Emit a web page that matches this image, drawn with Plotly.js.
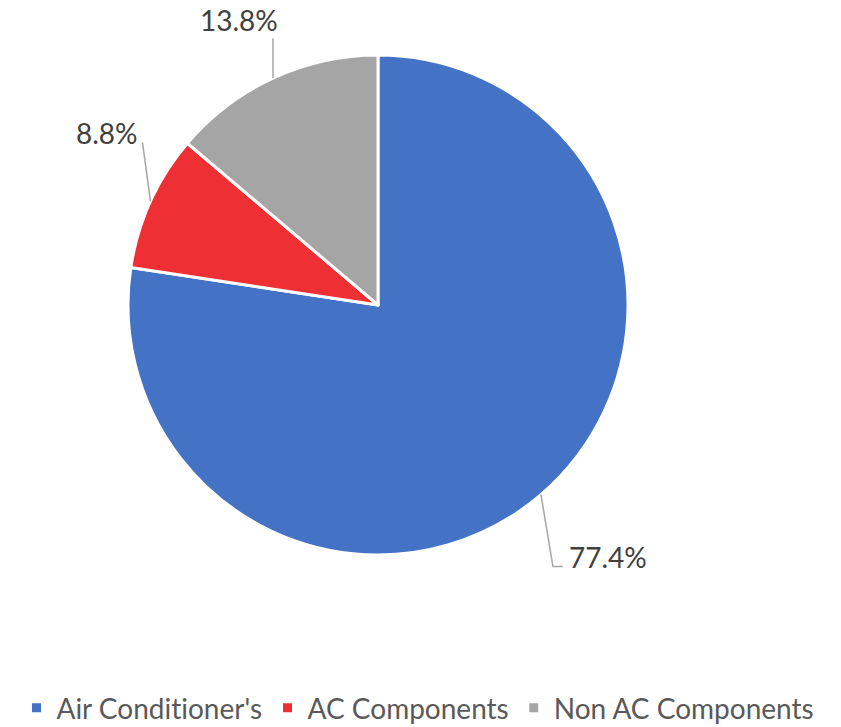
<!DOCTYPE html>
<html><head><meta charset="utf-8">
<script src="https://cdn.plot.ly/plotly-3.0.1.min.js"></script>
<style>html,body{margin:0;padding:0;background:#fff}#chart{width:841px;height:727px}
#chart text{font-variant-ligatures:none;font-feature-settings:"liga" 0}</style>
</head><body><div id="chart"></div>
<script>
const categories = ["Air Conditioner's", "AC Components", "Non AC Components"];
const shares = [77.4, 8.8, 13.8];
const colors = ["#4472C4", "#EE3035", "#A5A5A5"];

const W = 841, H = 727;
const cx = 378, cy = 305, R = 250;
// label layout (pixel offsets from slice edge midpoint), style only
const leaderEnd = [[12, 72], [-8, -59], [0, -40]];
const labelOff = [[15, -10], [-3, -9], [-34, -18]];
const labelAnchor = ["left", "right", "center"];

const total = shares.reduce((a, b) => a + b, 0);
const annotations = [], shapes = [];
let cum = 0;
const fx = p => p / W, fy = p => 1 - p / H;
shares.forEach((v, i) => {
  const mid = (cum + v / 2) / total * 2 * Math.PI;
  cum += v;
  const ex = cx + R * Math.sin(mid), ey = cy - R * Math.cos(mid);
  const lx = ex + leaderEnd[i][0], ly = ey + leaderEnd[i][1];
  let path = `M${fx(ex)},${fy(ey)} L${fx(lx)},${fy(ly)}`;
  if (i === 0) path += ` L${fx(lx + 10)},${fy(ly)}`;
  shapes.push({type: 'path', xref: 'paper', yref: 'paper', path: path,
    line: {color: '#A6A6A6', width: 1.5}});
  annotations.push({xref: 'paper', yref: 'paper', x: fx(lx + labelOff[i][0]), y: fy(ly + labelOff[i][1]),
    xanchor: labelAnchor[i], yanchor: 'middle', showarrow: false, borderpad: 0,
    text: v.toFixed(1) + '%', font: {family: 'Lato, sans-serif', size: 28, color: '#404040'}});
});

const data = [{
  type: 'pie', labels: categories, values: shares, sort: false, direction: 'clockwise', rotation: 0,
  marker: {colors: colors, line: {color: '#ffffff', width: 3}},
  textinfo: 'none', hoverinfo: 'label+percent', automargin: false,
  domain: {x: [(cx - R) / W, (cx + R) / W], y: [1 - (cy + R) / H, 1 - (cy - R) / H]}
}];
const layout = {
  width: W, height: H, margin: {l: 0, r: 0, t: 0, b: 0, autoexpand: false},
  paper_bgcolor: '#fff', showlegend: true,
  legend: {orientation: 'h', x: 0.497, xanchor: 'center', y: 0.026, yanchor: 'middle',
    font: {family: 'Lato, sans-serif', size: 28, color: '#595959'}, itemwidth: 30, tracegroupgap: 0},
  annotations: annotations, shapes: shapes
};
Plotly.newPlot('chart', data, layout, {displayModeBar: false});
</script></body></html>
